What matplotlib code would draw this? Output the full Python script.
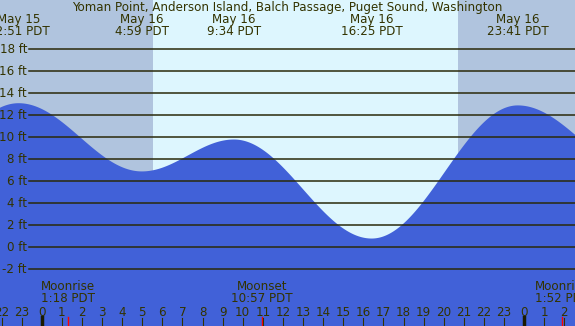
import numpy as np
import matplotlib
matplotlib.use("Agg")
import matplotlib.pyplot as plt

# tide extremes (day offset from May 16, clock time, height in ft)
tide_days = ["May 15", "May 16", "May 16", "May 16", "May 16"]
tide_clock = ["22:51", "4:59", "9:34", "16:25", "23:41"]
tide_ft = [13.1, 6.9, 9.8, 0.8, 12.9]
# lows just outside the window, needed to shape the curve at the edges
edge_hours = [-9.0, 30.0]
edge_ft = [1.0, 6.6]

moon_names = ["Moonrise", "Moonset", "Moonrise"]
moon_clock = ["1:18", "10:57", "1:52"]
moon_day = [0, 0, 1]

sunrise = "5:32"
sunset = "20:42"

ft_ticks = [-2, 0, 2, 4, 6, 8, 10, 12, 14, 16, 18]
title = "Yoman Point, Anderson Island, Balch Passage, Puget Sound, Washington"

TXT = "#333300"
NIGHT = "#b0c4de"
DAY = "#ddf6fe"
WATER = "#4161d8"
FS = 8.6

W, H = 575, 326
x0, x1 = -2.075, 26.53
y0, y1 = -7.15, 22.48


def to_hours(clock):
    hh, mm = clock.split(":")
    return int(hh) + int(mm) / 60


def ypix(p):
    # pixel row from top -> axes fraction
    return 1 - p / H


tide_h = [to_hours(c) - (24 if d == "May 15" else 0) for d, c in zip(tide_days, tide_clock)]
ext_h = [edge_hours[0]] + tide_h + [edge_hours[1]]
ext_ft = [edge_ft[0]] + tide_ft + [edge_ft[1]]

# cosine interpolation between highs and lows
t = np.linspace(x0, x1, 1200)
level = np.zeros_like(t)
for i in range(len(ext_h) - 1):
    a, b = ext_h[i], ext_h[i + 1]
    m = (t >= a) & (t <= b)
    frac = (t[m] - a) / (b - a)
    level[m] = ext_ft[i] + (ext_ft[i + 1] - ext_ft[i]) * (1 - np.cos(np.pi * frac)) / 2

fig = plt.figure(figsize=(W / 100, H / 100), dpi=100)
ax = fig.add_axes([0, 0, 1, 1])
ax.set_xlim(x0, x1)
ax.set_ylim(y0, y1)
ax.axis("off")

sr, ss = to_hours(sunrise), to_hours(sunset)
ax.axvspan(x0, sr, color=NIGHT, lw=0, zorder=0)
ax.axvspan(sr, ss, color=DAY, lw=0, zorder=0)
ax.axvspan(ss, x1, color=NIGHT, lw=0, zorder=0)

ax.fill_between(t, y0, level, color=WATER, lw=0, zorder=1)

xpx = ax.get_xaxis_transform()
grid_start = x0 + 29 / W * (x1 - x0)
for v in ft_ticks:
    ax.plot([grid_start, x1], [v, v], color="#2a2a0a", lw=1.1, zorder=2)
    ax.text(grid_start - 2 / W * (x1 - x0), v, f"{v} ft", ha="right", va="center",
            fontsize=FS, color=TXT, zorder=3)

ax.text((x0 + x1) / 2, ypix(7), title, transform=xpx, ha="center", va="center",
        fontsize=FS, color=TXT)
for d, c, h in zip(tide_days, tide_clock, tide_h):
    ax.text(h, ypix(19.5), d, transform=xpx, ha="center", va="center", fontsize=FS, color=TXT)
    ax.text(h, ypix(31.5), f"{c} PDT", transform=xpx, ha="center", va="center", fontsize=FS, color=TXT)

for name, c, d in zip(moon_names, moon_clock, moon_day):
    h = to_hours(c) + 24 * d
    ax.text(h, ypix(287), name, transform=xpx, ha="center", va="center", fontsize=FS, color=TXT)
    ax.text(h, ypix(299), f"{c} PDT", transform=xpx, ha="center", va="center", fontsize=FS, color=TXT)
    ax.plot([h, h], [ypix(317), 0], transform=xpx, color="red", lw=1, zorder=4)

for hr in range(-2, 27):
    ax.text(hr, ypix(312), str(hr % 24), transform=xpx, ha="center", va="center",
            fontsize=FS, color=TXT)
    if hr % 24 == 0:
        ax.plot([hr, hr], [ypix(317), 0], transform=xpx, color="#1a1a00", lw=2.5, zorder=4)
    else:
        ax.plot([hr, hr], [ypix(318), 0], transform=xpx, color=TXT, lw=0.8, zorder=4)

fig.savefig("out.png", dpi=100)
